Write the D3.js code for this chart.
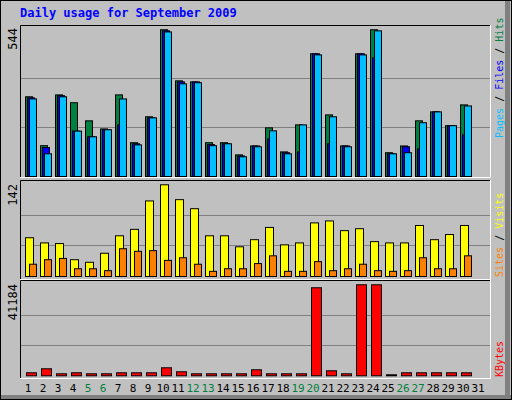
<!DOCTYPE html>
<html><head><meta charset="utf-8">
<script src="https://cdn.jsdelivr.net/npm/d3@7"></script>
<style>body{margin:0;background:#fff}</style></head>
<body><svg id="c" width="512" height="400"></svg>
<script>
const days = d3.range(1, 32);
const weekend = [5,6,12,13,19,20,26,27];
const hits  = [295,114,302,273,206,176,302,125,221,543,354,350,125,125,80,113,180,91,191,454,228,113,454,543,88,113,206,239,188,265,0];
const files = [291,107,299,168,147,173,191,121,217,539,350,350,118,121,76,113,139,88,91,454,121,113,454,439,84,110,102,239,188,154,0];
const pages = [287,84,295,168,147,173,287,117,217,535,343,347,114,121,73,110,169,84,191,450,221,110,450,539,84,88,199,239,188,261,0];
const visits = [60,52,51,26,22,36,63,73,117,142,119,105,63,63,46,57,76,49,52,83,86,71,74,54,52,52,79,57,65,79,0];
const sites  = [19,26,28,12,12,9,43,39,40,25,29,19,8,12,12,20,32,8,8,23,9,12,19,9,8,9,29,12,12,32,0];
const kbytes = [1358,3169,905,1358,905,905,1358,1358,1358,3622,1811,905,905,905,905,2716,905,905,905,39838,2264,905,41184,41184,453,1358,1358,1358,1358,1358,0];

const svg = d3.select("#c");
const F = "DejaVu Sans Mono, monospace";
svg.append("rect").attr("x",0.5).attr("y",0.5).attr("width",511).attr("height",399).attr("fill","#c0c0c0").attr("stroke","#000");
svg.append("line").attr("x1",507.5).attr("x2",507.5).attr("y1",1).attr("y2",399).attr("stroke","#808080").attr("stroke-width",5);
svg.append("line").attr("x1",1).attr("x2",511).attr("y1",397).attr("y2",397).attr("stroke","#808080").attr("stroke-width",4);
svg.append("text").attr("x",20).attr("y",17).attr("font-family",F).attr("font-weight","bold").attr("font-size",12).attr("fill","#0000ff").text("Daily usage for September 2009");

const x = d3.scaleBand().domain(days).range([20,485]).paddingInner(0);
function panel(y0,y1){
  svg.append("rect").attr("x",20).attr("y",y0).attr("width",471).attr("height",y1-y0).attr("fill","#c0c0c0");
  svg.append("path").attr("d",`M20.5,${y1}V${y0+0.5}H491`).attr("stroke","#000").attr("fill","none");
  svg.append("path").attr("d",`M20,${y1-0.5}H490.5V${y0}`).attr("stroke","#fff").attr("fill","none");
}
function grid(y, max){ [1,2].forEach(k=>{ svg.append("line").attr("x1",21).attr("x2",490).attr("y1",Math.round(y(max*k/3))+0.5).attr("y2",Math.round(y(max*k/3))+0.5).attr("stroke","#808080");}); }
function bars(data,y,off,w,color){
  svg.append("g").selectAll("rect").data(data).join("rect")
   .attr("x",(d,i)=>x(days[i])+off+0.5).attr("y",d=>y(d)+0.5).attr("width",w).attr("height",d=>Math.max(0,y(0)-y(d)))
   .attr("fill",color).attr("stroke",d=>d>0?"#000":"none");
}
function vlabel(x0,y0,txt){ svg.append("text").attr("transform",`translate(${x0},${y0}) rotate(-90)`).attr("text-anchor","end").attr("font-family",F).attr("font-size",12).text(txt); }
function rlabel(y0,parts){ const t=svg.append("text").attr("transform",`translate(503,${y0}) rotate(-90)`).attr("font-family",F).attr("font-size",10).attr("textLength",null);
  parts.forEach(p=>t.append("tspan").attr("fill",p[1]).text(p[0])); }

panel(25,178);
const y1 = d3.scaleLinear().domain([0,544]).range([176,29]);
grid(y1,544);
bars(hits,y1,5,7,"#008040");
bars(files,y1,7,7,"#0000ff");
bars(pages,y1,9,7,"#00c0ff");
vlabel(17,28,"544");
rlabel(138,[["Pages","#00c0ff"],[" / ","#000"],["Files","#0000ff"],[" / ","#000"],["Hits","#008040"]]);

panel(180,280);
const y2 = d3.scaleLinear().domain([0,142]).range([276,184.3]);
grid(y2,142);
bars(visits,y2,5,8,"#ffff00");
bars(sites,y2,9,7,"#ff8000");
vlabel(17,184,"142");
rlabel(277,[["Sites","#ff8000"],[" / ","#000"],["Visits","#ffff00"]]);

panel(280,379);
const y3 = d3.scaleLinear().domain([0,41184]).range([375.3,284.3]);
grid(y3,41184);
bars(kbytes,y3,6,10,"#ff0000");
vlabel(17,284,"41184");
rlabel(377,[["KBytes","#ff0000"]]);

svg.append("g").selectAll("text").data(days).join("text")
  .attr("x",d=>x(d)+x.bandwidth()/2+0.5).attr("y",392).attr("text-anchor","middle")
  .attr("font-family",F).attr("font-size",11)
  .attr("fill",d=>weekend.includes(d)?"#008040":"#000").text(d=>d);
</script></body></html>
